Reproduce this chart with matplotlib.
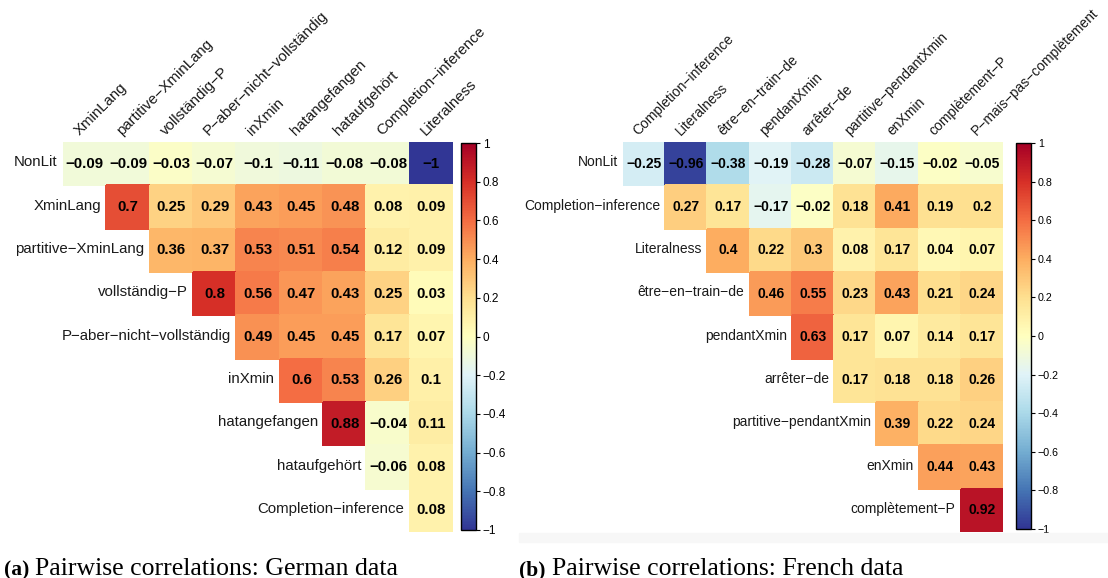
import numpy as np
import matplotlib
matplotlib.use("Agg")
from matplotlib import pyplot as plt
from matplotlib.colors import Normalize
from matplotlib.cm import ScalarMappable

plt.rcParams['font.family'] = ['Liberation Sans', 'DejaVu Sans']

# German data
de_vars = ["NonLit", "XminLang", "partitive−XminLang", "vollständig−P",
           "P−aber−nicht−vollständig", "inXmin", "hatangefangen",
           "hataufgehört", "Completion−inference", "Literalness"]
de_rows = [
    [-0.09, -0.09, -0.03, -0.07, -0.1, -0.11, -0.08, -0.08, -1],
    [0.7, 0.25, 0.29, 0.43, 0.45, 0.48, 0.08, 0.09],
    [0.36, 0.37, 0.53, 0.51, 0.54, 0.12, 0.09],
    [0.8, 0.56, 0.47, 0.43, 0.25, 0.03],
    [0.49, 0.45, 0.45, 0.17, 0.07],
    [0.6, 0.53, 0.26, 0.1],
    [0.88, -0.04, 0.11],
    [-0.06, 0.08],
    [0.08],
]

# French data
fr_vars = ["NonLit", "Completion−inference", "Literalness", "être−en−train−de",
           "pendantXmin", "arrêter−de", "partitive−pendantXmin", "enXmin",
           "complètement−P", "P−mais−pas−complètement"]
fr_rows = [
    [-0.25, -0.96, -0.38, -0.19, -0.28, -0.07, -0.15, -0.02, -0.05],
    [0.27, 0.17, -0.17, -0.02, 0.18, 0.41, 0.19, 0.2],
    [0.4, 0.22, 0.3, 0.08, 0.17, 0.04, 0.07],
    [0.46, 0.55, 0.23, 0.43, 0.21, 0.24],
    [0.63, 0.17, 0.07, 0.14, 0.17],
    [0.17, 0.18, 0.18, 0.26],
    [0.39, 0.22, 0.24],
    [0.44, 0.43],
    [0.92],
]

cbar_ticks = [1, 0.8, 0.6, 0.4, 0.2, 0, -0.2, -0.4, -0.6, -0.8, -1]

W, H = 1108, 578
fig = plt.figure(figsize=(W / 100, H / 100), dpi=100)
cmap = plt.get_cmap("RdYlBu_r")
norm = Normalize(-1, 1)


def px_rect(x0, y0, x1, y1):
    return [x0 / W, 1 - y1 / H, (x1 - x0) / W, (y1 - y0) / H]


def fmt(v):
    s = f"{v:g}"
    return s.replace("-", "−")


def corr_panel(vars_, rows, grid, cbar, fs):
    n = len(rows)
    M = np.full((n, n), np.nan)
    for i, r in enumerate(rows):
        M[i, i:] = r
    ax = fig.add_axes(px_rect(*grid))
    ax.pcolormesh(np.arange(n + 1), np.arange(n + 1), np.ma.masked_invalid(M),
                  cmap=cmap, norm=norm, edgecolors="face", linewidth=0.2)
    ax.set_xlim(0, n)
    ax.set_ylim(n, 0)
    ax.axis("off")
    for i in range(n):
        for j in range(i, n):
            ax.text(j + 0.5, i + 0.5, fmt(M[i, j]), ha="center", va="center",
                    fontsize=fs, fontweight="bold", color="black")
        # row label
        ax.text(i - 0.12, i + 0.47, vars_[i], ha="right", va="center",
                fontsize=fs, color="#1a1a1a")
        # column label
        ax.text(i + 0.42, -0.1, vars_[i + 1], ha="left", va="bottom",
                rotation=45, rotation_mode="anchor", fontsize=fs,
                color="#1a1a1a", clip_on=False)
    cax = fig.add_axes(px_rect(*cbar))
    cb = fig.colorbar(ScalarMappable(norm=norm, cmap=cmap), cax=cax)
    cb.set_ticks(cbar_ticks)
    cb.set_ticklabels([fmt(t) for t in cbar_ticks])
    cb.outline.set_linewidth(1.0)
    cax.tick_params(labelsize=fs - 2.3, length=3, width=0.8, pad=2)


corr_panel(de_vars, de_rows, (63, 142, 453, 532), (461, 143, 476, 530), 10.8)
corr_panel(fr_vars, fr_rows, (623, 142, 1003, 532), (1016, 143, 1031, 529), 10.0)

# faint strip under the right panel
fig.patches.append(plt.Rectangle((519 / W, 1 - 542 / H), (W - 519) / W, 9 / H,
                                 transform=fig.transFigure, color="#f7f7f7",
                                 zorder=0))

lab = dict(fontsize=15.5, family="Liberation Serif", va="baseline",
           fontweight="bold")
cap = dict(fontsize=18.5, family="Liberation Serif", va="baseline")
fig.text(4 / W, 1 - 575 / H, "(a)", **lab)
fig.text(35 / W, 1 - 575 / H, "Pairwise correlations: German data", **cap)
fig.text(519 / W, 1 - 575 / H, "(b)", **lab)
fig.text(552 / W, 1 - 575 / H, "Pairwise correlations: French data", **cap)

fig.savefig("out.png", dpi=100)
